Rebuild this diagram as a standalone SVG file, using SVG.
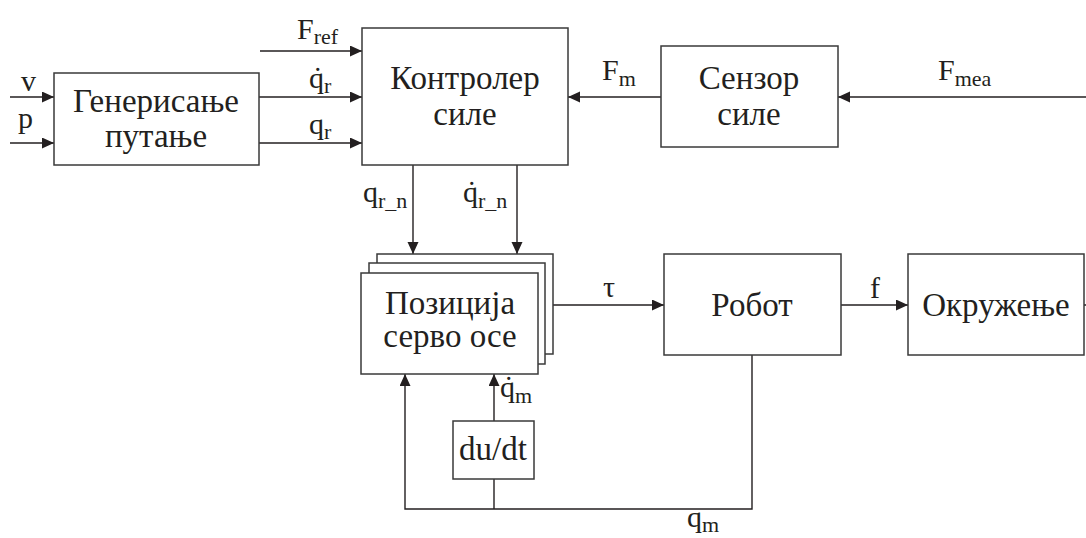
<svg xmlns="http://www.w3.org/2000/svg" width="1086" height="538" viewBox="0 0 1086 538">
<style>
.box{fill:#fff;stroke:#3a3a3a;stroke-width:1.5}
.ln{fill:none;stroke:#231f20;stroke-width:1.4}
.arr{marker-end:url(#ah)}
text{font-family:"Liberation Serif","Times New Roman",serif;fill:#231f20}
.bt{font-size:33px;text-anchor:middle}
.lb{font-size:30px}
.sb{font-size:22px}
</style>
<defs>
<marker id="ah" markerUnits="userSpaceOnUse" markerWidth="12" markerHeight="12" refX="12" refY="5.5" orient="auto">
<path d="M0,0 L12,5.5 L0,11 z" fill="#231f20"/>
</marker>
</defs>
<g id="connectors">
<line class="ln arr" x1="10" y1="97" x2="54" y2="97"/>
<line class="ln arr" x1="10" y1="143" x2="54" y2="143"/>
<line class="ln arr" x1="260" y1="51" x2="362" y2="51"/>
<line class="ln arr" x1="259" y1="97" x2="362" y2="97"/>
<line class="ln arr" x1="259" y1="143" x2="362" y2="143"/>
<line class="ln arr" x1="661" y1="97" x2="568" y2="97"/>
<line class="ln arr" x1="1086" y1="97" x2="838" y2="97"/>
<line class="ln arr" x1="413" y1="165" x2="413" y2="254"/>
<line class="ln arr" x1="517" y1="165" x2="517" y2="254"/>
<line class="ln arr" x1="553" y1="305" x2="664" y2="305"/>
<line class="ln arr" x1="841" y1="305" x2="908" y2="305"/>
<line class="ln" x1="1084" y1="305" x2="1086" y2="305"/>
<polyline class="ln arr" points="752,355 752,509 405,509 405,374"/>
<line class="ln" x1="494" y1="509" x2="494" y2="479"/>
<line class="ln arr" x1="494" y1="421" x2="494" y2="374"/>
</g>
<g id="labels">
<text class="lb" x="21" y="91">v</text>
<text class="lb" x="18" y="128">p</text>
<text class="lb" x="297" y="39">F<tspan class="sb" dy="5">ref</tspan></text>
<text class="lb" x="309" y="88">q̇<tspan class="sb" dy="5">r</tspan></text>
<text class="lb" x="309" y="134">q<tspan class="sb" dy="5">r</tspan></text>
<text class="lb" x="602" y="80">F<tspan class="sb" dy="6">m</tspan></text>
<text class="lb" x="938" y="80">F<tspan class="sb" dy="6">mea</tspan></text>
<text class="lb" x="363" y="202">q<tspan class="sb" dy="6">r_n</tspan></text>
<text class="lb" x="463" y="202">q̇<tspan class="sb" dy="6">r_n</tspan></text>
<text class="lb" x="603" y="297">τ</text>
<text class="lb" x="870" y="298">f</text>
<text class="lb" x="500" y="397">q̇<tspan class="sb" dy="6">m</tspan></text>
<text class="lb" x="687" y="527">q<tspan class="sb" dy="5">m</tspan></text>
</g>
<g id="gen">
<rect class="box" x="54" y="73" width="205" height="92"/>
<text class="bt" x="156" y="112">Генерисање</text>
<text class="bt" x="156" y="147">путање</text>
</g>
<g id="ctrl">
<rect class="box" x="362" y="28" width="206" height="137"/>
<text class="bt" x="465" y="89">Контролер</text>
<text class="bt" x="465" y="125">силе</text>
</g>
<g id="sensor">
<rect class="box" x="661" y="46" width="177" height="101"/>
<text class="bt" x="749" y="89">Сензор</text>
<text class="bt" x="749" y="125">силе</text>
</g>
<g id="servo">
<rect class="box" x="377" y="254" width="176" height="100"/>
<rect class="box" x="369" y="263" width="176" height="101"/>
<rect class="box" x="361" y="273" width="177" height="101"/>
<text class="bt" x="450" y="314">Позиција</text>
<text class="bt" x="450" y="347">серво осе</text>
</g>
<g id="robot">
<rect class="box" x="664" y="254" width="177" height="101"/>
<text class="bt" x="752" y="316">Робот</text>
</g>
<g id="env">
<rect class="box" x="908" y="254" width="176" height="101"/>
<text class="bt" x="996" y="316">Окружење</text>
</g>
<g id="dudt">
<rect class="box" x="453" y="421" width="81" height="58"/>
<text class="bt" x="493" y="460">du/dt</text>
</g>
</svg>
